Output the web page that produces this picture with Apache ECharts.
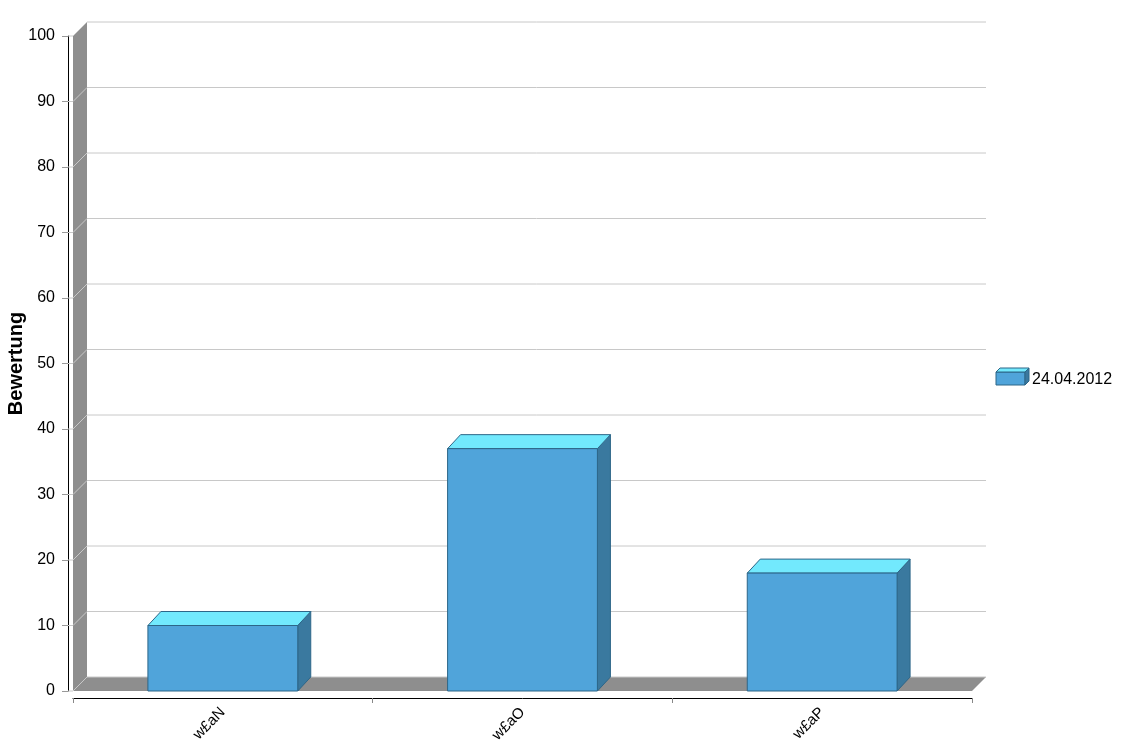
<!DOCTYPE html>
<html><head><meta charset="utf-8">
<script src="https://cdn.jsdelivr.net/npm/echarts@6/dist/echarts.min.js"></script>
<style>html,body{margin:0;padding:0;background:#fff}#c{width:1123px;height:756px}</style>
</head><body><div id="c"></div>
<script>
const categories = ['w£aN', 'w£aO', 'w£aP'];
const ratings = [10, 37, 18];
const seriesName = '24.04.2012';
const yTicks = [0, 10, 20, 30, 40, 50, 60, 70, 80, 90, 100];
const yAxisTitle = 'Bewertung';

const DX = 14, DY = -14, BDX = 13, BDY = -14;
const FONT = "'Liberation Sans', Arial, sans-serif";
const chart = echarts.init(document.getElementById('c'), null, {renderer: 'canvas'});

function renderDecor(params, api) {
  const cs = params.coordSys;
  const x0 = cs.x, x1 = cs.x + cs.width;
  const yb = api.coord([0, 0])[1];
  const yt = api.coord([0, 100])[1];
  const children = [];
  children.push({type: 'polygon', shape: {points: [[x0, yt], [x0 + DX, yt + DY], [x0 + DX, yb + DY], [x0, yb]]}, style: {fill: '#8e8e8e'}});
  children.push({type: 'polygon', shape: {points: [[x0, yb], [x0 + DX, yb + DY], [x1 + DX, yb + DY], [x1, yb]]}, style: {fill: '#8e8e8e'}});
  yTicks.forEach(function (v) {
    const y = api.coord([0, v])[1];
    children.push({type: 'polyline', shape: {points: [[x0 - 5, y], [x0, y], [x0 + DX, y + DY], [x1 + DX, y + DY]]},
      style: {stroke: '#c8c8c8', lineWidth: 1, fill: null}});
  });
  return {type: 'group', children: children};
}

function renderBar(params, api) {
  const idx = api.value(0), v = api.value(1);
  const top = api.coord([idx, v]), bot = api.coord([idx, 0]);
  const w = api.size([1, 0])[0] * 0.5;
  const xl = top[0] - w / 2, xr = top[0] + w / 2;
  const yt = top[1], yb = bot[1];
  const border = '#2d6688';
  return {type: 'group', children: [
    {type: 'polygon', shape: {points: [[xr, yt], [xr + BDX, yt + BDY], [xr + BDX, yb + BDY], [xr, yb]]}, style: {fill: '#3a799f', stroke: border, lineWidth: 1}},
    {type: 'polygon', shape: {points: [[xl, yt], [xl + BDX, yt + BDY], [xr + BDX, yt + BDY], [xr, yt]]}, style: {fill: '#72e9fd', stroke: border, lineWidth: 1}},
    {type: 'rect', shape: {x: xl, y: yt, width: w, height: yb - yt}, style: {fill: '#50a4da', stroke: border, lineWidth: 1}}
  ]};
}

const option = {
  backgroundColor: '#fff',
  animation: false,
  textStyle: {fontFamily: FONT},
  grid: {left: 73, right: 151, top: 36, bottom: 65, containLabel: false, outerBoundsMode: 'none'},
  legend: {
    data: [seriesName], orient: 'vertical', left: 990, top: 366,
    itemWidth: 32, itemHeight: 17, icon: 'rect',
    itemStyle: {opacity: 0},
    textStyle: {fontFamily: FONT, fontSize: 16, color: '#000'}
  },
  graphic: [
    {type: 'rect', shape: {x: 996, y: 372, width: 29, height: 13}, style: {fill: '#50a4da', stroke: '#2d6688', lineWidth: 1}, z: 100},
    {type: 'polygon', shape: {points: [[996, 372], [1000, 368], [1029, 368], [1025, 372]]}, style: {fill: '#72e9fd', stroke: '#2d6688', lineWidth: 1}, z: 100},
    {type: 'polygon', shape: {points: [[1025, 372], [1029, 368], [1029, 381], [1025, 385]]}, style: {fill: '#3a799f', stroke: '#2d6688', lineWidth: 1}, z: 100}
  ],
  xAxis: {
    type: 'category', data: categories, boundaryGap: true, offset: 7,
    axisLine: {show: true, onZero: false, lineStyle: {color: '#000', width: 1}},
    axisTick: {show: true, length: 5, lineStyle: {color: '#888'}},
    axisLabel: {rotate: 45, fontSize: 15, color: '#000', margin: 12, fontFamily: FONT},
    splitLine: {show: false}
  },
  yAxis: {
    type: 'value', min: 0, max: 100, interval: 10, offset: 5,
    name: yAxisTitle, nameLocation: 'middle', nameRotate: 90, nameGap: 42, nameMoveOverlap: false,
    nameTextStyle: {fontFamily: FONT, fontSize: 20, fontWeight: 'bold', color: '#000'},
    axisLine: {show: true, lineStyle: {color: '#000', width: 1}},
    axisTick: {show: true, length: 6, lineStyle: {color: '#999'}},
    axisLabel: {fontSize: 16, color: '#000', margin: 13, fontFamily: FONT},
    splitLine: {show: false}
  },
  series: [
    {type: 'custom', name: 'decor', silent: true, z: 1, renderItem: renderDecor, data: [[0, 0]], encode: {x: 0, y: 1}},
    {type: 'custom', name: seriesName, z: 2, renderItem: renderBar, itemStyle: {color: '#50a4da'},
      data: categories.map(function (c, i) { return [i, ratings[i]]; }), encode: {x: 0, y: 1}}
  ]
};
chart.setOption(option);
</script></body></html>
